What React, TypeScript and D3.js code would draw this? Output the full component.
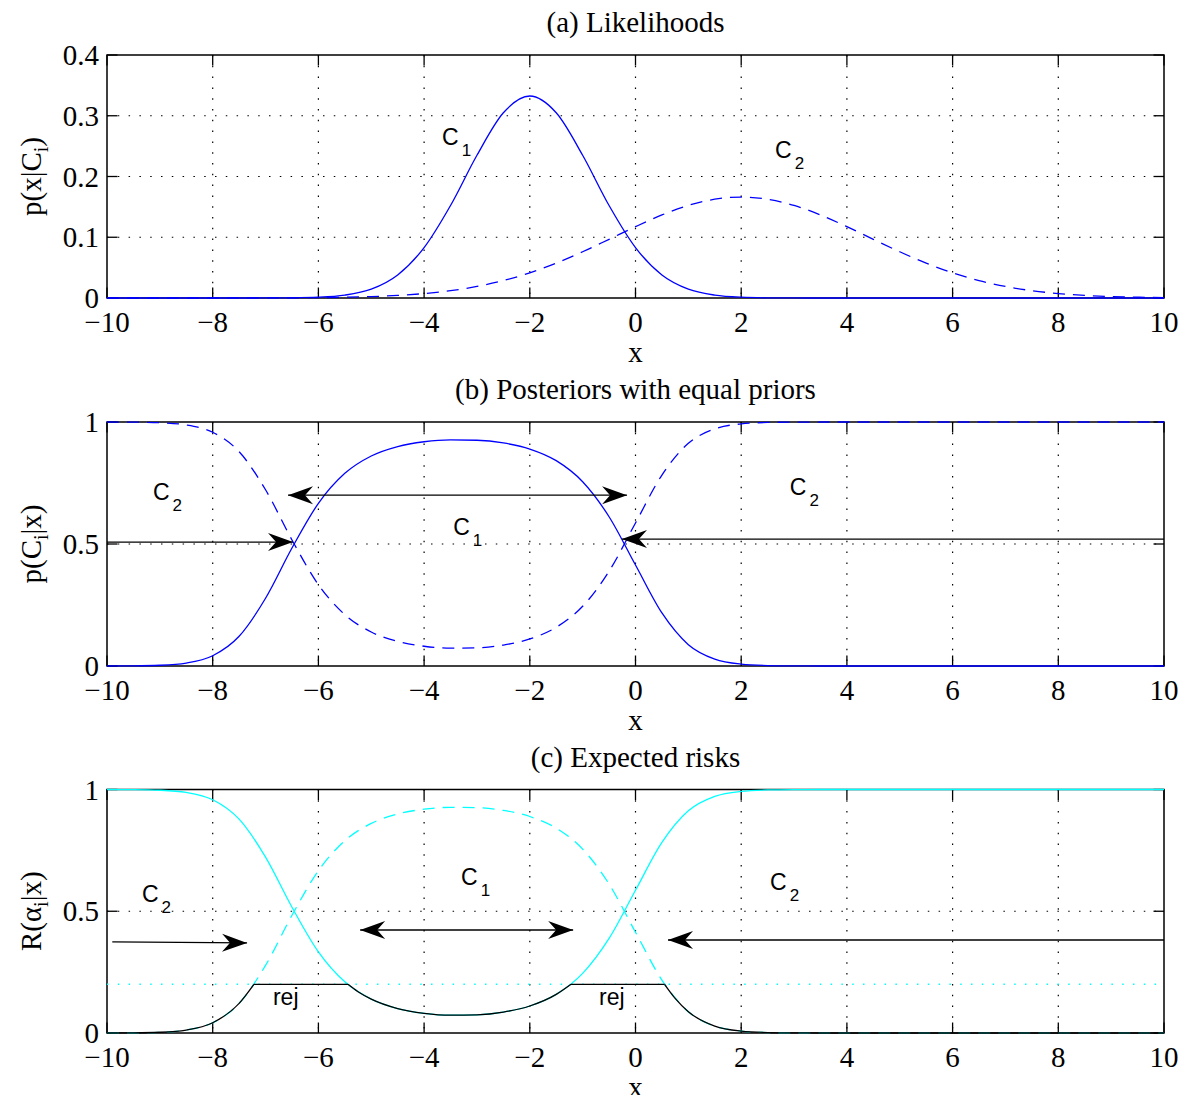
import React from "react";
import * as d3 from "d3";

// ---------- data ----------
const sampleX = [-10, -9.5, -9, -8.5, -8, -7.5, -7, -6.5, -6, -5.5, -5, -4.5, -4, -3.5, -3, -2.5, -2, -1.5, -1, -0.5, 0, 0.5, 1, 1.5, 2, 2.5, 3, 3.5, 4, 4.5, 5, 5.5, 6, 6.5, 7, 7.5, 8, 8.5, 9, 9.5, 10];

const likelihoodC1 = [0, 0, 0, 0, 0.000001, 0.00001, 0.000057, 0.000294, 0.00128, 0.00473, 0.01461, 0.03797, 0.08293, 0.1522, 0.2349, 0.3049, 0.3325, 0.3049, 0.2349, 0.1522, 0.08293, 0.03797, 0.01461, 0.00473, 0.00128, 0.000294, 0.000057, 0.00001, 0.000001, 0, 0, 0, 0, 0, 0, 0, 0, 0, 0, 0, 0];

const likelihoodC2 = [0.0000006, 0.0000017, 0.0000046, 0.0000116, 0.0000283, 0.000066, 0.000147, 0.000314, 0.000642, 0.00126, 0.00236, 0.00424, 0.0073, 0.01203, 0.01898, 0.02865, 0.04145, 0.05739, 0.07609, 0.09661, 0.1174, 0.1367, 0.1524, 0.1626, 0.1662, 0.1626, 0.1524, 0.1367, 0.1174, 0.09661, 0.07609, 0.05739, 0.04145, 0.02865, 0.01898, 0.01203, 0.0073, 0.00424, 0.00236, 0.00126, 0.000642];

const posteriorC1 = [0.0001, 0.0006, 0.003, 0.0121, 0.0421, 0.1218, 0.2777, 0.4834, 0.6667, 0.7896, 0.8607, 0.8994, 0.919, 0.9268, 0.9253, 0.9141, 0.8891, 0.8415, 0.7553, 0.6117, 0.4137, 0.2173, 0.0875, 0.0282, 0.0077, 0.0018, 0.0004, 0.0001, 0, 0, 0, 0, 0, 0, 0, 0, 0, 0, 0, 0, 0];

const posteriorC2 = [0.9999, 0.9994, 0.997, 0.9879, 0.9579, 0.8782, 0.7223, 0.5166, 0.3333, 0.2104, 0.1393, 0.1006, 0.081, 0.0732, 0.0747, 0.0859, 0.1109, 0.1585, 0.2447, 0.3883, 0.5863, 0.7827, 0.9125, 0.9718, 0.9923, 0.9982, 0.9996, 0.9999, 1, 1, 1, 1, 1, 1, 1, 1, 1, 1, 1, 1, 1];

// expected risks: R(a1|x) = 1 - P(C1|x), R(a2|x) = 1 - P(C2|x)
const riskAlpha1 = posteriorC2;
const riskAlpha2 = posteriorC1;
const rejectLevel = 0.2;

// min risk with reject option (black)
const minRiskX = [-10, -9.5, -9, -8.5, -8, -7.5, -7.22, -5.44, -5.25, -5, -4.5, -4, -3.5, -3, -2.5, -2, -1.5, -1.22, 0.55, 0.75, 1, 1.5, 2, 2.5, 3, 3.5, 4, 10];
const minRiskY = [0.0001, 0.0006, 0.003, 0.0121, 0.0421, 0.1218, 0.2, 0.2, 0.1696, 0.1393, 0.1006, 0.081, 0.0732, 0.0747, 0.0859, 0.1109, 0.1585, 0.2, 0.2, 0.1422, 0.0875, 0.0282, 0.0077, 0.0018, 0.0004, 0.0001, 0, 0];

const xTicks = [-10, -8, -6, -4, -2, 0, 2, 4, 6, 8, 10];
const yTicksA = [0, 0.1, 0.2, 0.3, 0.4];
const yTicksBC = [0, 0.5, 1];

const titles = ["(a) Likelihoods", "(b) Posteriors with equal priors", "(c) Expected risks"];

// annotations (data coords)
const labelsA = [
  { main: "C", sub: "1", x: -3.66, y: 0.252 },
  { main: "C", sub: "2", x: 2.64, y: 0.23 },
];
const labelsB = [
  { main: "C", sub: "2", x: -9.13, y: 0.68 },
  { main: "C", sub: "1", x: -3.45, y: 0.537 },
  { main: "C", sub: "2", x: 2.92, y: 0.7 },
];
const labelsC = [
  { main: "C", sub: "2", x: -9.34, y: 0.538 },
  { main: "C", sub: "1", x: -3.3, y: 0.608 },
  { main: "C", sub: "2", x: 2.545, y: 0.587 },
  { main: "rej", sub: "", x: -6.86, y: 0.115 },
  { main: "rej", sub: "", x: -0.69, y: 0.115 },
];
const arrowsB = [
  { x1: -6.575, y1: 0.7, x2: -0.16, y2: 0.7, both: true },
  { x1: -10, y1: 0.508, x2: -6.48, y2: 0.508, both: false },
  { x1: 10, y1: 0.52, x2: -0.256, y2: 0.52, both: false },
];
const arrowsC = [
  { x1: -9.9, y1: 0.374, x2: -7.35, y2: 0.37, both: false },
  { x1: -5.21, y1: 0.423, x2: -1.18, y2: 0.423, both: true },
  { x1: 10, y1: 0.382, x2: 0.615, y2: 0.382, both: false },
];

// ---------- layout ----------
const W = 1182;
const H = 1095;
const LEFT = 107;
const RIGHT = 1164;
const SERIF = "'Liberation Serif', 'Times New Roman', Times, serif";
const SANS = "'Liberation Sans', Arial, Helvetica, sans-serif";
const BLUE = "#0000ff";
const CYAN = "#00ffff";
const DOT = "1.5 9.3";
const DASH = "12 8";
const TICK = 10.5;

const xScale = d3.scaleLinear().domain([-10, 10]).range([LEFT, RIGHT]);

function fmtX(d: number) {
  return d < 0 ? "\u2212" + Math.abs(d) : String(d);
}

function Arrow({ a, y }: any) {
  const x1 = xScale(a.x1), y1 = y(a.y1), x2 = xScale(a.x2), y2 = y(a.y2);
  const ang = (Math.atan2(y2 - y1, x2 - x1) * 180) / Math.PI;
  const head = "M0,0 L-25,-9 L-17,0 L-25,9 Z";
  return (
    <g>
      <line x1={x1} y1={y1} x2={x2} y2={y2} stroke="#000" strokeWidth={1.3} />
      <path d={head} fill="#000" transform={`translate(${x2},${y2}) rotate(${ang})`} />
      {a.both && <path d={head} fill="#000" transform={`translate(${x1},${y1}) rotate(${ang + 180})`} />}
    </g>
  );
}

function Label({ l, y }: any) {
  return (
    <text x={xScale(l.x)} y={y(l.y)} fontFamily={SANS} fontSize={23} fill="#000">
      {l.main}
      {l.sub && (
        <tspan dx={3} dy={11} fontSize={17}>
          {l.sub}
        </tspan>
      )}
    </text>
  );
}

function Axes({ top, bottom, yTicks, y, title, ylab }: any) {
  const mid = (top + bottom) / 2;
  return (
    <g>
      {/* grid */}
      {xTicks.slice(1, -1).map((t) => (
        <line key={"gx" + t} x1={xScale(t)} x2={xScale(t)} y1={top} y2={bottom} stroke="#000" strokeWidth={1.2} strokeDasharray={DOT} />
      ))}
      {yTicks.slice(1, -1).map((t: number) => (
        <line key={"gy" + t} x1={LEFT} x2={RIGHT} y1={y(t)} y2={y(t)} stroke="#000" strokeWidth={1.2} strokeDasharray={DOT} />
      ))}
      {/* box */}
      <rect x={LEFT} y={top} width={RIGHT - LEFT} height={bottom - top} fill="none" stroke="#000" strokeWidth={1.5} />
      {/* ticks */}
      {xTicks.map((t) => (
        <g key={"tx" + t}>
          <line x1={xScale(t)} x2={xScale(t)} y1={bottom} y2={bottom - TICK} stroke="#000" strokeWidth={1.3} />
          <line x1={xScale(t)} x2={xScale(t)} y1={top} y2={top + TICK} stroke="#000" strokeWidth={1.3} />
          <text x={xScale(t)} y={bottom + 34} textAnchor="middle" fontFamily={SERIF} fontSize={29}>
            {fmtX(t)}
          </text>
        </g>
      ))}
      {yTicks.map((t: number) => (
        <g key={"ty" + t}>
          <line x1={LEFT} x2={LEFT + TICK} y1={y(t)} y2={y(t)} stroke="#000" strokeWidth={1.3} />
          <line x1={RIGHT} x2={RIGHT - TICK} y1={y(t)} y2={y(t)} stroke="#000" strokeWidth={1.3} />
          <text x={LEFT - 8} y={y(t) + 10} textAnchor="end" fontFamily={SERIF} fontSize={29}>
            {String(t)}
          </text>
        </g>
      ))}
      <text x={(LEFT + RIGHT) / 2} y={top - 23} textAnchor="middle" fontFamily={SERIF} fontSize={29}>
        {title}
      </text>
      <text x={(LEFT + RIGHT) / 2} y={bottom + 64} textAnchor="middle" fontFamily={SERIF} fontSize={29}>
        x
      </text>
      <text transform={`translate(41,${mid}) rotate(-90)`} textAnchor="middle" fontFamily={SERIF} fontSize={29}>
        {ylab[0]}
        <tspan dy={7} fontSize={20}>
          {ylab[1]}
        </tspan>
        <tspan dy={-7}>{ylab[2]}</tspan>
      </text>
    </g>
  );
}

function pathOf(xs: number[], ys: number[], y: any, curve = true) {
  const pts = xs.map((x, i) => [x, ys[i]] as [number, number]);
  const gen = d3
    .line<[number, number]>()
    .x((d) => xScale(d[0]))
    .y((d) => y(d[1]))
    .curve(curve ? d3.curveMonotoneX : d3.curveLinear);
  return gen(pts) || "";
}

function rejectPieces(xs: number[], ys: number[], level: number) {
  const pieces: { xs: number[]; ys: number[]; curve: boolean }[] = [];
  let cx = [xs[0]];
  let cy = [ys[0]];
  for (let i = 1; i < xs.length; i++) {
    if (ys[i - 1] === level && ys[i] === level) {
      if (cx.length > 1) pieces.push({ xs: cx, ys: cy, curve: true });
      pieces.push({ xs: [xs[i - 1], xs[i]], ys: [ys[i - 1], ys[i]], curve: false });
      cx = [xs[i]];
      cy = [ys[i]];
    } else {
      cx.push(xs[i]);
      cy.push(ys[i]);
    }
  }
  if (cx.length > 1) pieces.push({ xs: cx, ys: cy, curve: true });
  return pieces;
}

export default function App() {
  const pA = { top: 55, bottom: 298 };
  const pB = { top: 422, bottom: 666 };
  const pC = { top: 789.5, bottom: 1033 };
  const yA = d3.scaleLinear().domain([0, 0.4]).range([pA.bottom, pA.top]);
  const yB = d3.scaleLinear().domain([0, 1]).range([pB.bottom, pB.top]);
  const yC = d3.scaleLinear().domain([0, 1]).range([pC.bottom, pC.top]);

  const pieces = rejectPieces(minRiskX, minRiskY, rejectLevel);

  return (
    <svg width={W} height={H} style={{ position: "absolute", left: 0, top: 0, background: "#fff" }}>
      <rect width={W} height={H} fill="#fff" />
      {/* Panel A */}
      <Axes {...pA} yTicks={yTicksA} y={yA} title={titles[0]} ylab={["p(x|C", "i", ")"]} />
      <path d={pathOf(sampleX, likelihoodC2, yA)} fill="none" stroke={BLUE} strokeWidth={1.3} strokeDasharray={DASH} />
      <path d={pathOf(sampleX, likelihoodC1, yA)} fill="none" stroke={BLUE} strokeWidth={1.3} />
      {labelsA.map((l, i) => (
        <Label key={i} l={l} y={yA} />
      ))}

      {/* Panel B */}
      <Axes {...pB} yTicks={yTicksBC} y={yB} title={titles[1]} ylab={["p(C", "i", "|x)"]} />
      <path d={pathOf(sampleX, posteriorC2, yB)} fill="none" stroke={BLUE} strokeWidth={1.3} strokeDasharray={DASH} />
      <path d={pathOf(sampleX, posteriorC1, yB)} fill="none" stroke={BLUE} strokeWidth={1.3} />
      {arrowsB.map((a, i) => (
        <Arrow key={i} a={a} y={yB} />
      ))}
      {labelsB.map((l, i) => (
        <Label key={i} l={l} y={yB} />
      ))}

      {/* Panel C */}
      <Axes {...pC} yTicks={yTicksBC} y={yC} title={titles[2]} ylab={["R(\u03b1", "i", "|x)"]} />
      <path d={pathOf(sampleX, riskAlpha1, yC)} fill="none" stroke={CYAN} strokeWidth={1.3} />
      <path d={pathOf(sampleX, riskAlpha2, yC)} fill="none" stroke={CYAN} strokeWidth={1.3} strokeDasharray={DASH} />
      <line x1={LEFT} x2={RIGHT} y1={yC(rejectLevel)} y2={yC(rejectLevel)} stroke={CYAN} strokeWidth={1.5} strokeDasharray={DOT} />
      {pieces.map((p, i) => (
        <path key={i} d={pathOf(p.xs, p.ys, yC, p.curve)} fill="none" stroke="#000" strokeWidth={1.3} />
      ))}
      {arrowsC.map((a, i) => (
        <Arrow key={i} a={a} y={yC} />
      ))}
      {labelsC.map((l, i) => (
        <Label key={i} l={l} y={yC} />
      ))}
    </svg>
  );
}
